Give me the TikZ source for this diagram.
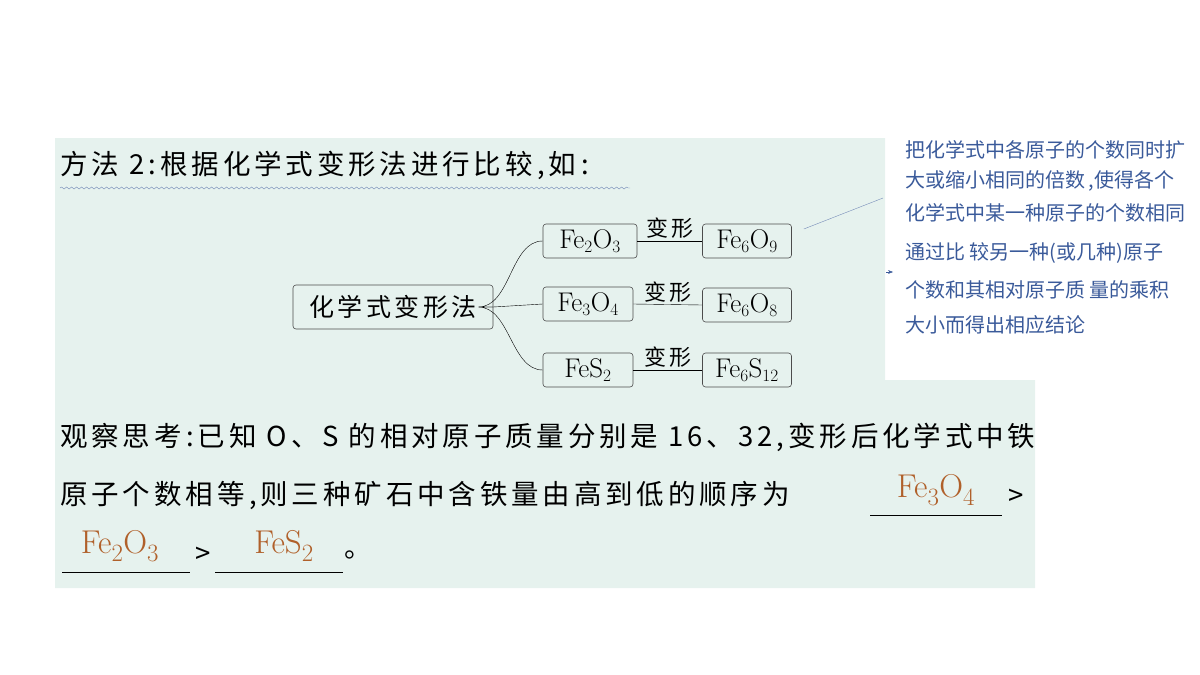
\documentclass[tikz,border=0pt]{standalone}
\usepackage{fontspec}
\newfontfamily\cjk{Noto Sans CJK SC}
\newfontfamily\cjkwide[LetterSpace=14]{Noto Sans CJK SC}
\usetikzlibrary{positioning, arrows.meta, decorations.pathmorphing}
\definecolor{panel}{HTML}{E6F2EE}
\definecolor{note}{HTML}{3A5A9A}
\definecolor{answer}{HTML}{B0602A}
\begin{document}
\begin{tikzpicture}[x=1pt,y=-1pt,semithick]
    \tikzset{
        box/.style={draw=black!70,rounded corners=3pt,minimum height=34pt,inner xsep=2pt,font=\fontsize{27}{29}\selectfont},
        tag/.style={font=\cjkwide\fontsize{22}{24}\selectfont},
        body/.style={anchor=west,inner sep=0pt,font=\cjkwide\fontsize{27.5}{30}\selectfont},
        ans/.style={inner sep=0pt,text=answer,font=\fontsize{33}{35}\selectfont},
        memo/.style={anchor=west,inner sep=0pt,text=note,font=\cjk\fontsize{20}{22}\selectfont}
    }
    \useasboundingbox (0,0) rectangle (1200,675);
    \fill[panel] (55,138) -- (885,138) -- (885,380) -- (1035,380) -- (1035,588) -- (55,588) -- cycle;

    \node[body] (title) at (60,165) {方法 2\,:根据化学式变形法进行比较\,,如\,:};
    \draw[note!70,thin,decorate,decoration={snake,amplitude=1pt,segment length=5pt}] (60,188) -- (630,188);

    \node[box,font=\cjkwide\fontsize{25}{27}\selectfont,minimum height=44pt,minimum width=200pt] (main) at (393,307) {化学式变形法};
    \node[box,minimum width=94pt] (a1) at (590,241) {Fe$_2$O$_3$};
    \node[box,minimum width=90pt] (b1) at (588,304) {Fe$_3$O$_4$};
    \node[box,minimum width=90pt] (c1) at (588,370) {FeS$_2$};
    \node[box,minimum width=89pt] (a2) at (747,241) {Fe$_6$O$_9$};
    \node[box,minimum width=89pt] (b2) at (747,305) {Fe$_6$O$_8$};
    \node[box,minimum width=89pt] (c2) at (747,370) {Fe$_6$S$_{12}$};

    \draw[thin] (main.east) -- (b1.west);
    \draw[thin] (main.east) -- ++(-15,0) to[out=0,in=180,looseness=0.9] (a1.west);
    \draw[thin] (main.east) -- ++(-15,0) to[out=0,in=180,looseness=0.9] (c1.west);
    \foreach \s in {a,b,c}
        \draw[thin] (\s1.east) -- node[tag,above=-1pt] {变形} (\s2.west);

    % note on the right
    \foreach \t/\y [count=\i] in {把化学式中各原子的个数同时扩/150, {大或缩小相同的倍数\,,使得各个}/181, 化学式中某一种原子的个数相同/213, 通过比 较另一种(或几种)原子/253, 个数和其相对原子质 量的乘积/290, 大小而得出相应结论/325}
        \node[memo] (m\i) at (905,\y) {\t};
    \coordinate (lead) at (883,198);
    \draw[note!70,thin] (a2.east) ++(12,-12) -- (lead);
    \coordinate (tip) at (893,272);
    \draw[note,thin,-{Stealth[length=5pt]}] (886,272) -- (tip);

    % question
    \node[body] (q1) at (60,437) {观察思考\,:已知 O、S 的相对原子质量分别是 16、32\,,变形后化学式中铁};
    \node[body] (q2) at (60,495) {原子个数相等\,,则三种矿石中含铁量由高到低的顺序为};
    \coordinate (u1) at (870,515);
    \coordinate (v1) at (1002,515);
    \draw[thin] (u1) -- (v1);
    \node[ans] (r1) at (936,490) {Fe$_3$O$_4$};
    \node[body] (g1) at (1008,497) {>};
    \coordinate (u2) at (62,572);
    \coordinate (v2) at (190,572);
    \coordinate (u3) at (215,572);
    \coordinate (v3) at (343,572);
    \draw[thin] (u2) -- (v2);
    \draw[thin] (u3) -- (v3);
    \node[ans] (r2) at (120,546) {Fe$_2$O$_3$};
    \node[ans] (r3) at (284,546) {FeS$_2$};
    \node[body] (g2) at (195,555) {>};
    \node[body] (end) at (344,555) {。};
\end{tikzpicture}
\end{document}
